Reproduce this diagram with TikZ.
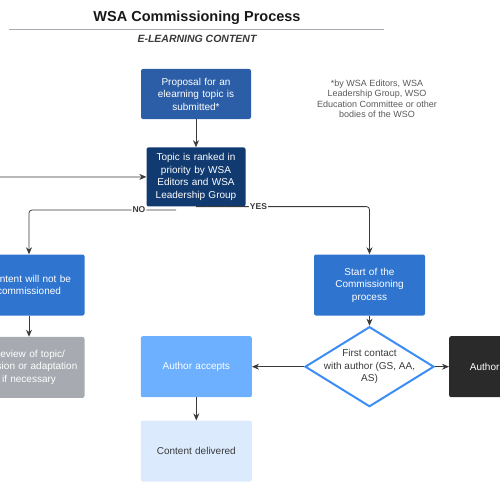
\documentclass[tikz,border=0pt]{standalone}
\usepackage{fontspec}
\setmainfont{Liberation Sans}
\usepackage{xcolor}
\usetikzlibrary{shapes.geometric, arrows.meta, positioning}

\definecolor{wsablue}{HTML}{2B5EA7}
\definecolor{wsanavy}{HTML}{103A70}
\definecolor{wsamid}{HTML}{2F74CF}
\definecolor{wsalight}{HTML}{6CB0FF}
\definecolor{wsapale}{HTML}{DCEAFE}
\definecolor{wsagray}{HTML}{A7AAB1}
\definecolor{wsadark}{HTML}{2A2A2A}
\definecolor{wsaedge}{HTML}{3C8DF5}
\definecolor{wsaline}{HTML}{3A3A3A}

\begin{document}
\begin{tikzpicture}[
    x=1pt, y=-1pt,
    box/.style={rectangle, rounded corners=2pt, align=center, inner sep=0pt, text width=101pt, minimum width=111pt, minimum height=61pt, font=\fontsize{10}{12.5}\selectfont, text=white},
    decision/.style={diamond, draw=wsaedge, line width=2pt, fill=white, minimum width=129pt, minimum height=80pt, inner sep=0pt},
    arrow/.style={-{Stealth[length=7pt, width=6pt]}, draw=wsaline, line width=0.8pt},
    branch/.style={font=\fontsize{8.5}{10}\selectfont\bfseries, text=wsaline, fill=white, inner sep=1pt}
]

    \useasboundingbox (0,0) rectangle (500,500);
    \clip (0,0) rectangle (500,500);

    % heading
    \node[font=\fontsize{14.5}{17}\selectfont\bfseries, text=black!90] (title) at (197,18) {WSA Commissioning Process};
    \draw[color=wsagray, line width=1pt] (9,30) -- (384,30);
    \node[font=\fontsize{10.5}{12}\selectfont\bfseries\itshape, text=wsaline] (subtitle) at (197,39) {E-LEARNING CONTENT};

    \node[align=center, font=\fontsize{9}{10.5}\selectfont, text=black!65] (note) at (377,99) {*by WSA Editors, WSA\\Leadership Group, WSO\\Education Committee or other\\bodies of the WSO};

    % boxes
    \node[box, fill=wsablue, text width=100pt, minimum width=110pt, minimum height=50pt] (proposal) at (196,94) {Proposal for an\\elearning topic is\\submitted*};
    \node[box, fill=wsanavy, text width=90pt, minimum width=99pt, minimum height=59pt, below=28pt of proposal] (ranked) {Topic is ranked in\\priority by WSA\\Editors and WSA\\Leadership Group};

    \node[box, fill=wsamid] (rejected) at (29,285) {Content will not be\\commissioned};
    \node[box, fill=wsagray, below=21pt of rejected] (review) {Review of topic/\\revision or adaptation\\if necessary};

    \node[box, fill=wsamid] (start) at (369.5,285) {Start of the\\Commissioning\\process};
    \node[decision, below=10pt of start] (contact) {};
    \node[align=center, font=\fontsize{10}{12.5}\selectfont, text=wsaline] (contacttext) at (contact.center) {First contact\\with author (GS, AA,\\AS)};

    \node[box, fill=wsalight, left=52pt of contact] (accepts) {Author accepts};
    \node[box, fill=wsapale, text=wsaline, below=23pt of accepts] (delivered) {Content delivered};
    \node[box, fill=wsadark, right=14pt of contact] (declines) {Author declines};

    % connectors
    \coordinate (loopin) at (-20,177);
    \coordinate (nostart) at (176,210);

    \draw[arrow] (proposal) -- (ranked);
    \draw[arrow] (loopin) -- (ranked.west);
    \draw[arrow, rounded corners=3pt] (nostart) -| node[branch, pos=0.126] {NO} (rejected.north);
    \draw[arrow, rounded corners=3pt] (ranked.south) -| node[branch, pos=0.18] {YES} (start.north);
    \draw[arrow] (rejected) -- (review);
    \draw[arrow] (start) -- (contact);
    \draw[arrow] (contact) -- (accepts);
    \draw[arrow] (contact) -- (declines);
    \draw[arrow] (accepts) -- (delivered);

\end{tikzpicture}
\end{document}
